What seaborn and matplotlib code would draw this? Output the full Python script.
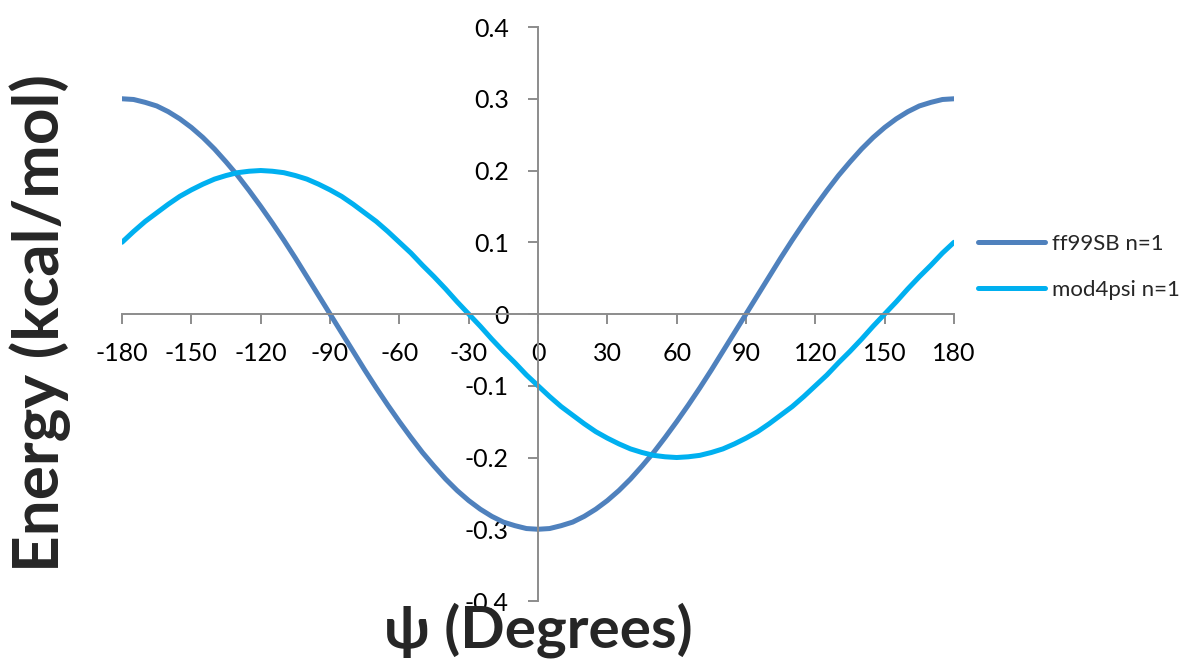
import pandas as pd
import seaborn as sns
import matplotlib.pyplot as plt
from matplotlib.lines import Line2D

psi = list(range(-180, 181, 5))
ff99sb = [0.300, 0.299, 0.295, 0.290, 0.282, 0.272, 0.260, 0.246, 0.230, 0.212,
          0.193, 0.172, 0.150, 0.127, 0.103, 0.078, 0.052, 0.026, 0.000,
          -0.026, -0.052, -0.078, -0.103, -0.127, -0.150, -0.172, -0.193, -0.212,
          -0.230, -0.246, -0.260, -0.272, -0.282, -0.290, -0.295, -0.299, -0.300,
          -0.299, -0.295, -0.290, -0.282, -0.272, -0.260, -0.246, -0.230, -0.212,
          -0.193, -0.172, -0.150, -0.127, -0.103, -0.078, -0.052, -0.026, 0.000,
          0.026, 0.052, 0.078, 0.103, 0.127, 0.150, 0.172, 0.193, 0.212,
          0.230, 0.246, 0.260, 0.272, 0.282, 0.290, 0.295, 0.299, 0.300]
mod4psi = [0.100, 0.115, 0.129, 0.141, 0.153, 0.164, 0.173, 0.181, 0.188, 0.193,
           0.197, 0.199, 0.200,
           0.199, 0.197, 0.193, 0.188, 0.181, 0.173, 0.164, 0.153, 0.141, 0.129,
           0.115, 0.100,
           0.085, 0.068, 0.052, 0.035, 0.017, 0.000,
           -0.017, -0.035, -0.052, -0.068, -0.085, -0.100,
           -0.115, -0.129, -0.141, -0.153, -0.164, -0.173, -0.181, -0.188, -0.193,
           -0.197, -0.199, -0.200,
           -0.199, -0.197, -0.193, -0.188, -0.181, -0.173, -0.164, -0.153, -0.141,
           -0.129, -0.115, -0.100,
           -0.085, -0.068, -0.052, -0.035, -0.017, 0.000,
           0.017, 0.035, 0.052, 0.068, 0.085, 0.100]
series_names = ["ff99SB n=1", "mod4psi n=1"]
colors = ["#4F81BD", "#00B0F0"]
x_ticks = list(range(-180, 181, 30))
y_ticks = [-0.4, -0.3, -0.2, -0.1, 0.0, 0.1, 0.2, 0.3, 0.4]

df = pd.DataFrame({
    "psi": psi * 2,
    "energy": ff99sb + mod4psi,
    "series": [series_names[0]] * len(psi) + [series_names[1]] * len(psi),
})

sns.set_style("white")
plt.rcParams["font.family"] = ["Lato", "DejaVu Sans"]

fig = plt.figure(figsize=(11.86, 6.59), dpi=100)
ax = fig.add_axes([0.1029, 0.088, 0.7015, 0.871])

sns.lineplot(data=df, x="psi", y="energy", hue="series", palette=colors,
             linewidth=3.6, ax=ax, legend=False, sort=False,
             solid_joinstyle="round", solid_capstyle="round")

ax.set_xlim(-180, 180)
ax.set_ylim(-0.4, 0.4)
ax.set_xticks(x_ticks)
ax.set_xticklabels([str(t) for t in x_ticks])
ax.set_yticks(y_ticks)
ax.set_yticklabels(["0" if abs(v) < 1e-9 else f"{v:.1f}" for v in y_ticks])

for side in ["top", "right"]:
    ax.spines[side].set_visible(False)
ax.spines["left"].set_position(("data", 0))
ax.spines["bottom"].set_position(("data", 0))
for side in ["left", "bottom"]:
    ax.spines[side].set_color("#8c8c8c")
    ax.spines[side].set_linewidth(1.4)

ax.tick_params(axis="both", direction="out", length=7, width=1.4,
               color="#8c8c8c", labelsize=18, labelcolor="black",
               bottom=True, left=True)
ax.tick_params(axis="x", pad=13)
ax.tick_params(axis="y", pad=14)
ax.set_xlabel("")
ax.set_ylabel("")

fig.text(0.034, 0.51, "Energy (kcal/mol)", rotation=90, ha="center", va="center",
         fontsize=46, fontweight="bold")
fig.text(0.4536, 0.044, "ψ (Degrees)", ha="center", va="center",
         fontsize=42, fontweight="bold")

handles = [Line2D([0], [0], color=c, lw=3.6) for c in colors]
fig.legend(handles, series_names, loc="center left",
           bbox_to_anchor=(0.808, 0.595), frameon=False, fontsize=16,
           handlelength=3.0, handletextpad=0.3, labelspacing=1.2)

fig.savefig("out.png", dpi=100)
